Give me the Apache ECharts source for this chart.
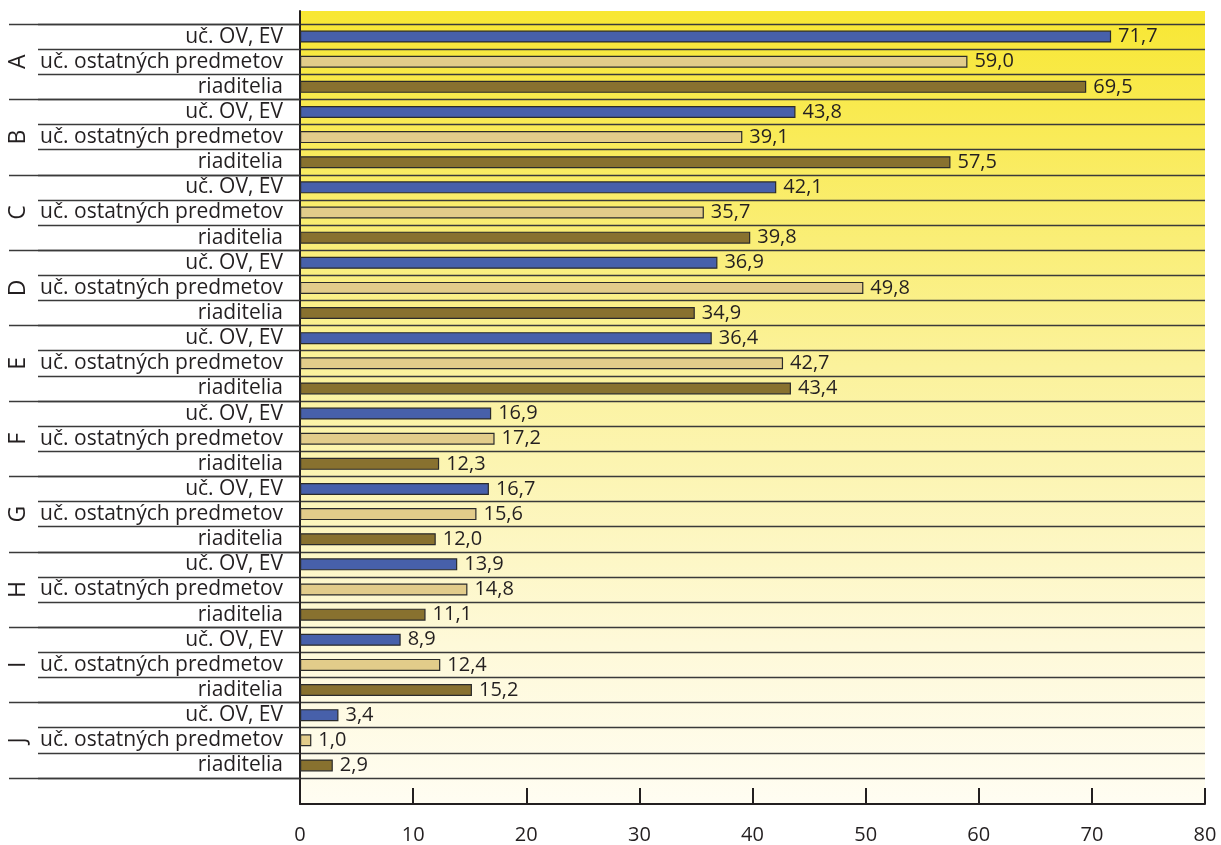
<!DOCTYPE html>
<html>
<head>
<meta charset="utf-8">
<script src="https://cdn.jsdelivr.net/npm/echarts@6/dist/echarts.min.js"></script>
<style>
html,body{margin:0;padding:0;background:#fff;}
#chart{width:1221px;height:845px;}
</style>
</head>
<body>
<div id="chart"></div>
<script>
// ---- data ----
const groups = ['A', 'B', 'C', 'D', 'E', 'F', 'G', 'H', 'I', 'J'];
const roles = ['uč. OV, EV', 'uč. ostatných predmetov', 'riaditelia'];
const ucOvEv = [71.7, 43.8, 42.1, 36.9, 36.4, 16.9, 16.7, 13.9, 8.9, 3.4];
const ucOstatnych = [59.0, 39.1, 35.7, 49.8, 42.7, 17.2, 15.6, 14.8, 12.4, 1.0];
const riaditelia = [69.5, 57.5, 39.8, 34.9, 43.4, 12.3, 12.0, 11.1, 15.2, 2.9];
const xTicks = [0, 10, 20, 30, 40, 50, 60, 70, 80];

// ---- build ----
const roleColors = ['#4760aa', '#e2cc8a', '#88712f'];
const roleValues = [ucOvEv, ucOstatnych, riaditelia];
const categories = [];
const barData = [];
groups.forEach((g, gi) => {
  roles.forEach((r, ri) => {
    categories.push(r);
    barData.push({ value: roleValues[ri][gi], itemStyle: { color: roleColors[ri] } });
  });
});

const FONT = 'Open Sans';
const TXT = '#231f20';
const LINE = '#3a3a3a';

const chart = echarts.init(document.getElementById('chart'), null, { renderer: 'canvas' });
chart.setOption({
  animation: false,
  backgroundColor: '#ffffff',
  grid: [
    { left: 300, right: 16, top: 11, bottom: 41, show: true, borderWidth: 0, z: -1,
      backgroundColor: { type: 'linear', x: 0, y: 0, x2: 0, y2: 1,
        colorStops: [
          { offset: 0, color: '#f8e733' },
          { offset: 0.45, color: '#fbf29c' },
          { offset: 0.8, color: '#fef9d9' },
          { offset: 1, color: '#fffdf2' }
        ] } },
    { left: 300, right: 16, top: 24, bottom: 67 }
  ],
  xAxis: [
    { gridIndex: 0, type: 'value', min: xTicks[0], max: xTicks[xTicks.length - 1], interval: 10,
      axisLine: { show: true, lineStyle: { color: TXT, width: 2 } },
      axisTick: { show: true, inside: true, length: 16, lineStyle: { color: TXT, width: 2 } },
      splitLine: { show: false },
      axisLabel: { fontFamily: FONT, fontSize: 20, color: TXT, margin: 21 } },
    { gridIndex: 1, type: 'value', min: xTicks[0], max: xTicks[xTicks.length - 1], show: false }
  ],
  yAxis: [
    { gridIndex: 0, type: 'value', min: 0, max: 1, position: 'left',
      axisLine: { show: true, lineStyle: { color: TXT, width: 2 } },
      axisTick: { show: false }, axisLabel: { show: false }, splitLine: { show: false } },
    { gridIndex: 1, type: 'category', data: categories, inverse: true, position: 'left',
      axisLine: { show: false },
      axisTick: { show: true, length: 262, interval: 0, lineStyle: { color: LINE, width: 1.3 } },
      splitLine: { show: true, interval: 0, lineStyle: { color: LINE, width: 1.3 } },
      axisLabel: { interval: 0, fontFamily: FONT, fontSize: 21, color: TXT, margin: 17 } },
    { gridIndex: 1, type: 'category', data: categories, inverse: true, position: 'left',
      axisLine: { show: false },
      axisTick: { show: true, length: 291, interval: (i) => i % 3 === 0, lineStyle: { color: LINE, width: 1.3 } },
      splitLine: { show: false },
      axisLabel: { show: false } },
    { gridIndex: 1, type: 'category', data: categories, inverse: true, position: 'left',
      axisLine: { show: false }, axisTick: { show: false }, splitLine: { show: false },
      axisLabel: { interval: (i) => i % 3 === 1, rotate: 90, margin: 270,
        formatter: (v, i) => groups[Math.floor(i / 3)],
        fontFamily: FONT, fontSize: 23, color: TXT } }
  ],
  series: [
    { type: 'bar', xAxisIndex: 1, yAxisIndex: 1, data: barData, barWidth: 12,
      itemStyle: { borderColor: '#2b2b2b', borderWidth: 1.2 },
      label: { show: true, position: 'right', distance: 7, fontFamily: FONT, fontSize: 20, color: TXT,
        formatter: (p) => p.value.toFixed(1).replace('.', ',') } }
  ]
});
</script>
</body>
</html>
